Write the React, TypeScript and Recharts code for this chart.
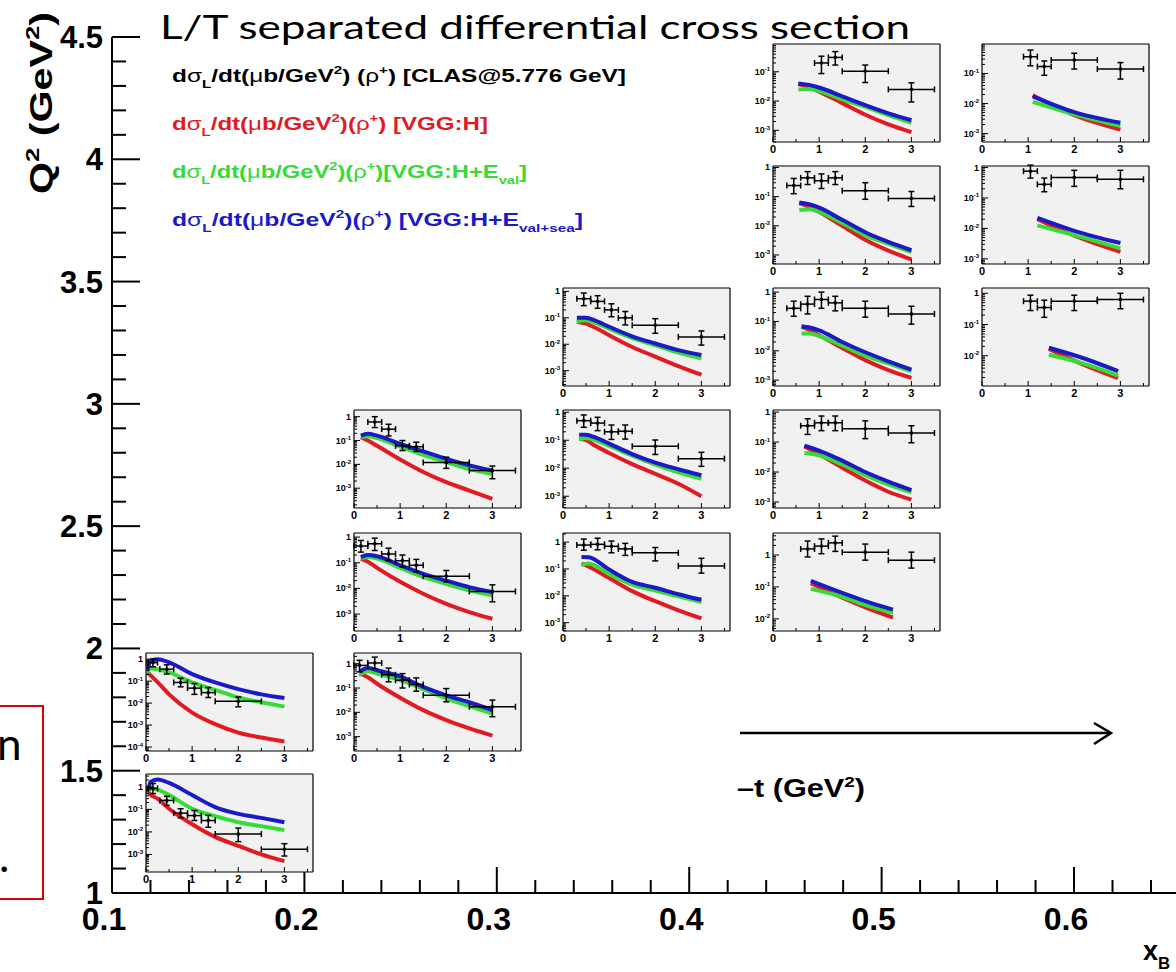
import React from 'react';
import { ComposedChart, Line, Scatter, ErrorBar, XAxis, YAxis, CartesianGrid } from 'recharts';

const RED = '#e21b22';
const GREEN = '#35dc35';
const BLUE = '#1a1ac8';
const PAD_BG = '#f1f1f1';
const HELV = '"Liberation Sans", Arial, Helvetica, sans-serif';

// outer frame ticks (x_B every 0.02, Q^2 every 0.1)
const XB_TICKS = Array.from({ length: 28 }, (_, i) => (10 + 2 * i) / 100);
const Q2_TICKS = Array.from({ length: 36 }, (_, i) => (10 + i) / 10);
const PANEL_ANCHORS = [
  { xb: 0.12, q2: 1.25 }, { xb: 0.23, q2: 2.25 }, { xb: 0.34, q2: 3.25 }, { xb: 0.45, q2: 4.25 }, { xb: 0.56, q2: 3.75 },
];

// CLAS points: [-t, value, low, high, -t low, -t high]
// VGG curves: [-t, H, H+Eval, H+Eval+sea]
const clasC1R0 = [
  [0.15, 0.85, 0.5, 1.4, 0.05, 0.25],
  [0.45, 0.25, 0.15, 0.38, 0.3, 0.6],
  [0.75, 0.068, 0.042, 0.107, 0.6, 0.9],
  [1.05, 0.053, 0.032, 0.089, 0.9, 1.2],
  [1.35, 0.032, 0.016, 0.054, 1.2, 1.5],
  [2.0, 0.008, 0.0037, 0.0148, 1.5, 2.5],
  [3.0, 0.0017, 0.00085, 0.003, 2.5, 3.5],
];
const vggC1R0 = [
  [0.05, 0.6, 0.6, 0.7],
  [0.1, 0.45, 0.85, 1.66],
  [0.25, 0.3, 0.75, 2.1],
  [0.5, 0.107, 0.43, 1.5],
  [1.0, 0.022, 0.107, 0.43],
  [1.5, 0.006, 0.05, 0.126],
  [2.0, 0.0024, 0.027, 0.063],
  [2.5, 0.001, 0.018, 0.042],
  [3.0, 0.0005, 0.012, 0.027],
];

const clasC1R1 = [
  [0.15, 0.7, 0.45, 1.0, 0.05, 0.25],
  [0.45, 0.35, 0.21, 0.55, 0.3, 0.6],
  [0.75, 0.087, 0.055, 0.135, 0.6, 0.9],
  [1.05, 0.048, 0.025, 0.078, 0.9, 1.2],
  [1.35, 0.03, 0.018, 0.051, 1.2, 1.5],
  [2.0, 0.012, 0.0068, 0.019, 1.5, 2.5],
];
const vggC1R1 = [
  [0.03, 0.25, 0.25, 0.3],
  [0.1, 0.18, 0.39, 0.83],
  [0.25, 0.09, 0.35, 1.0],
  [0.5, 0.025, 0.25, 0.71],
  [1.0, 0.0037, 0.087, 0.21],
  [1.5, 0.0011, 0.04, 0.087],
  [2.0, 0.00045, 0.018, 0.043],
  [2.5, 0.00027, 0.011, 0.025],
  [3.0, 0.00018, 0.0069, 0.017],
];

const clasC2R1 = [
  [0.12, 0.85, 0.46, 1.38, 0.0, 0.3],
  [0.45, 1.07, 0.63, 1.86, 0.3, 0.6],
  [0.75, 0.35, 0.18, 0.66, 0.6, 0.9],
  [1.05, 0.21, 0.1, 0.39, 0.9, 1.2],
  [1.35, 0.14, 0.074, 0.26, 1.2, 1.5],
  [2.0, 0.05, 0.027, 0.095, 1.5, 2.5],
  [3.0, 0.017, 0.0066, 0.032, 2.5, 3.5],
];
const vggC2R1 = [
  [0.12, 0.39, 0.35, 0.46],
  [0.3, 0.28, 0.49, 0.66],
  [0.5, 0.15, 0.39, 0.54],
  [1.0, 0.04, 0.21, 0.3],
  [1.5, 0.0123, 0.09, 0.112],
  [2.0, 0.0048, 0.037, 0.05],
  [2.5, 0.0022, 0.018, 0.026],
  [3.0, 0.0011, 0.0089, 0.0123],
];

const clasC2R2 = [
  [0.15, 0.45, 0.26, 0.74, 0.0, 0.3],
  [0.45, 0.55, 0.3, 0.91, 0.3, 0.6],
  [0.75, 0.22, 0.123, 0.37, 0.6, 0.9],
  [1.05, 0.12, 0.068, 0.2, 0.9, 1.2],
  [1.35, 0.08, 0.044, 0.135, 1.2, 1.5],
  [2.0, 0.03, 0.018, 0.05, 1.5, 2.5],
  [3.0, 0.0076, 0.003, 0.0138, 2.5, 3.5],
];
const vggC2R2 = [
  [0.15, 0.145, 0.145, 0.166],
  [0.3, 0.11, 0.166, 0.2],
  [0.5, 0.063, 0.145, 0.18],
  [1.0, 0.018, 0.063, 0.08],
  [1.5, 0.0062, 0.028, 0.037],
  [2.0, 0.0025, 0.015, 0.02],
  [2.5, 0.0012, 0.0085, 0.0112],
  [3.0, 0.00066, 0.0054, 0.0072],
];

const clasC2R3 = [
  [0.45, 0.6, 0.35, 1.0, 0.3, 0.6],
  [0.75, 0.3, 0.155, 0.48, 0.6, 0.9],
  [1.05, 0.06, 0.038, 0.1, 0.9, 1.2],
  [1.35, 0.055, 0.035, 0.085, 1.2, 1.5],
  [2.0, 0.012, 0.0068, 0.02, 1.5, 2.5],
  [3.0, 0.0055, 0.0025, 0.0085, 2.5, 3.5],
];
const vggC2R3 = [
  [0.15, 0.138, 0.138, 0.16],
  [0.3, 0.1, 0.15, 0.19],
  [0.5, 0.06, 0.126, 0.16],
  [1.0, 0.016, 0.055, 0.072],
  [1.5, 0.0048, 0.025, 0.035],
  [2.0, 0.0018, 0.0126, 0.017],
  [2.5, 0.0008, 0.0063, 0.0091],
  [3.0, 0.00036, 0.004, 0.0055],
];

const clasC3R2 = [
  [0.45, 0.78, 0.5, 1.3, 0.3, 0.6],
  [0.75, 0.83, 0.52, 1.4, 0.6, 0.9],
  [1.05, 0.7, 0.4, 1.1, 0.9, 1.2],
  [1.35, 0.56, 0.32, 0.9, 1.2, 1.5],
  [2.0, 0.4, 0.2, 0.63, 1.5, 2.5],
  [3.0, 0.13, 0.07, 0.25, 2.5, 3.5],
];
const vggC3R2 = [
  [0.4, 0.16, 0.14, 0.28],
  [0.55, 0.123, 0.16, 0.275],
  [1.0, 0.046, 0.065, 0.095],
  [1.5, 0.015, 0.026, 0.033],
  [2.0, 0.0063, 0.0158, 0.02],
  [2.5, 0.0029, 0.0095, 0.0115],
  [3.0, 0.00145, 0.0058, 0.0071],
];

const clasC3R3 = [
  [0.45, 0.5, 0.29, 0.8, 0.3, 0.6],
  [0.75, 0.41, 0.22, 0.66, 0.6, 0.9],
  [1.05, 0.2, 0.107, 0.35, 0.9, 1.2],
  [1.35, 0.21, 0.11, 0.35, 1.2, 1.5],
  [2.0, 0.061, 0.031, 0.102, 1.5, 2.5],
  [3.0, 0.022, 0.0117, 0.037, 2.5, 3.5],
];
const vggC3R3 = [
  [0.35, 0.112, 0.107, 0.158],
  [0.5, 0.1, 0.12, 0.158],
  [0.7, 0.063, 0.1, 0.126],
  [1.0, 0.035, 0.063, 0.076],
  [1.5, 0.014, 0.028, 0.032],
  [2.0, 0.0063, 0.0135, 0.0158],
  [2.5, 0.0028, 0.0072, 0.0092],
  [3.0, 0.001, 0.0042, 0.0056],
];

const clasC3R4 = [
  [0.45, 0.53, 0.29, 0.87, 0.3, 0.6],
  [0.75, 0.42, 0.23, 0.69, 0.6, 0.9],
  [1.05, 0.2, 0.11, 0.34, 0.9, 1.2],
  [1.35, 0.1, 0.054, 0.174, 1.2, 1.5],
  [2.0, 0.053, 0.026, 0.093, 1.5, 2.5],
  [3.0, 0.019, 0.0093, 0.032, 2.5, 3.5],
];
const vggC3R4 = [
  [0.3, 0.071, 0.071, 0.1],
  [0.5, 0.06, 0.081, 0.1],
  [0.7, 0.042, 0.065, 0.078],
  [1.0, 0.022, 0.039, 0.046],
  [1.5, 0.0079, 0.017, 0.02],
  [2.0, 0.0034, 0.0091, 0.0107],
  [2.5, 0.0015, 0.0048, 0.006],
  [3.0, 0.0007, 0.0029, 0.0039],
];

const clasC4R2 = [
  [0.75, 1.55, 0.87, 2.75, 0.6, 0.9],
  [1.05, 1.9, 1.1, 3.2, 0.9, 1.2],
  [1.35, 2.4, 1.3, 3.9, 1.2, 1.5],
  [2.0, 1.23, 0.69, 2.2, 1.5, 2.5],
  [3.0, 0.69, 0.39, 1.23, 2.5, 3.5],
];
const vggC4R2 = [
  [0.82, 0.13, 0.087, 0.155],
  [1.5, 0.046, 0.049, 0.065],
  [2.0, 0.023, 0.027, 0.036],
  [2.6, 0.011, 0.0155, 0.0195],
];

const clasC4R3 = [
  [0.75, 0.35, 0.18, 0.6, 0.6, 0.9],
  [1.05, 0.44, 0.24, 0.74, 0.9, 1.2],
  [1.35, 0.44, 0.24, 0.74, 1.2, 1.5],
  [2.0, 0.28, 0.13, 0.51, 1.5, 2.5],
  [3.0, 0.2, 0.095, 0.35, 2.5, 3.5],
];
const vggC4R3 = [
  [0.68, 0.071, 0.043, 0.076],
  [1.0, 0.039, 0.036, 0.052],
  [1.5, 0.014, 0.018, 0.024],
  [2.0, 0.0052, 0.0078, 0.01],
  [2.5, 0.0022, 0.0038, 0.0048],
  [3.0, 0.0012, 0.0021, 0.0025],
];

const clasC4R4 = [
  [0.45, 0.28, 0.15, 0.49, 0.3, 0.6],
  [0.75, 0.39, 0.18, 0.72, 0.6, 0.9],
  [1.05, 0.56, 0.28, 1.0, 0.9, 1.2],
  [1.35, 0.43, 0.23, 0.72, 1.2, 1.5],
  [2.0, 0.28, 0.14, 0.49, 1.5, 2.5],
  [3.0, 0.18, 0.081, 0.33, 2.5, 3.5],
];
const vggC4R4 = [
  [0.62, 0.065, 0.039, 0.069],
  [0.8, 0.05, 0.039, 0.062],
  [1.0, 0.034, 0.032, 0.05],
  [1.5, 0.0125, 0.015, 0.02],
  [2.0, 0.0048, 0.0068, 0.0089],
  [2.5, 0.0022, 0.0037, 0.0044],
  [3.0, 0.0012, 0.002, 0.0023],
];

const clasC4R5 = [
  [0.45, 0.24, 0.126, 0.42, 0.3, 0.6],
  [0.75, 0.44, 0.26, 0.72, 0.6, 0.9],
  [1.05, 0.35, 0.19, 0.6, 0.9, 1.2],
  [1.35, 0.44, 0.26, 0.72, 1.2, 1.5],
  [2.0, 0.16, 0.081, 0.3, 1.5, 2.5],
  [3.0, 0.087, 0.046, 0.15, 2.5, 3.5],
];
const vggC4R5 = [
  [0.57, 0.06, 0.035, 0.063],
  [0.8, 0.043, 0.037, 0.054],
  [1.0, 0.03, 0.03, 0.042],
  [1.5, 0.01, 0.0125, 0.016],
  [2.0, 0.0033, 0.0048, 0.006],
  [2.5, 0.0014, 0.0024, 0.0028],
  [3.0, 0.0007, 0.00126, 0.00145],
];

const clasC4R6 = [
  [1.05, 0.2, 0.087, 0.34, 0.9, 1.2],
  [1.35, 0.31, 0.17, 0.49, 1.2, 1.5],
  [2.0, 0.105, 0.043, 0.17, 1.5, 2.5],
  [3.0, 0.025, 0.0093, 0.042, 2.5, 3.5],
];
const vggC4R6 = [
  [0.55, 0.038, 0.025, 0.04],
  [0.8, 0.029, 0.026, 0.035],
  [1.0, 0.021, 0.022, 0.029],
  [1.5, 0.0085, 0.0115, 0.0145],
  [2.0, 0.0034, 0.0063, 0.0072],
  [2.5, 0.0016, 0.0033, 0.0038],
  [3.0, 0.00087, 0.0018, 0.0022],
];

const clasC5R4 = [
  [1.05, 0.56, 0.28, 0.87, 0.9, 1.2],
  [1.35, 0.35, 0.17, 0.6, 1.2, 1.5],
  [2.0, 0.56, 0.28, 0.87, 1.5, 2.5],
  [3.0, 0.63, 0.32, 1.0, 2.5, 3.5],
];
const vggC5R4 = [
  [1.45, 0.0166, 0.0107, 0.018],
  [2.2, 0.0052, 0.0056, 0.0083],
  [2.95, 0.0019, 0.0023, 0.0032],
];

const clasC5R5 = [
  [1.05, 0.76, 0.45, 1.2, 0.9, 1.2],
  [1.35, 0.28, 0.16, 0.45, 1.2, 1.5],
  [2.0, 0.47, 0.24, 0.81, 1.5, 2.5],
  [3.0, 0.41, 0.2, 0.81, 2.5, 3.5],
];
const vggC5R5 = [
  [1.2, 0.02, 0.0126, 0.022],
  [2.0, 0.0058, 0.006, 0.0083],
  [3.0, 0.0017, 0.0022, 0.0033],
];

const clasC5R6 = [
  [1.05, 0.36, 0.18, 0.6, 0.9, 1.2],
  [1.35, 0.17, 0.087, 0.26, 1.2, 1.5],
  [2.0, 0.28, 0.14, 0.47, 1.5, 2.5],
  [3.0, 0.14, 0.065, 0.23, 2.5, 3.5],
];
const vggC5R6 = [
  [1.1, 0.019, 0.0114, 0.0174],
  [2.0, 0.0041, 0.0044, 0.0052],
  [3.0, 0.00135, 0.0018, 0.0023],
];

// pad layout (pixels) and log10 range of each pad's y axis
const COL_LEFT = [146, 354, 563, 773, 982];
const ROW_TOP = [774, 653, 533, 410, 288, 166, 44];
const PAD_W = 167;
const PAD_H = 98;
const AX_W = 34;
const AX_H = 16;
const PAD_TOP = 8;

const PANELS = [
  { col: 0, row: 0, logY: [-3.78, 0.57], clas: clasC1R0, vgg: vggC1R0 },
  { col: 0, row: 1, logY: [-4.18, 0.28], clas: clasC1R1, vgg: vggC1R1 },
  { col: 1, row: 1, logY: [-3.59, 0.44], clas: clasC2R1, vgg: vggC2R1 },
  { col: 1, row: 2, logY: [-3.66, 0.16], clas: clasC2R2, vgg: vggC2R2 },
  { col: 1, row: 3, logY: [-3.83, 0.28], clas: clasC2R3, vgg: vggC2R3 },
  { col: 2, row: 2, logY: [-3.31, 0.34], clas: clasC3R2, vgg: vggC3R2 },
  { col: 2, row: 3, logY: [-3.42, 0.08], clas: clasC3R3, vgg: vggC3R3 },
  { col: 2, row: 4, logY: [-3.58, 0.13], clas: clasC3R4, vgg: vggC3R4 },
  { col: 3, row: 2, logY: [-2.38, 0.69], clas: clasC4R2, vgg: vggC4R2 },
  { col: 3, row: 3, logY: [-3.2, 0.07], clas: clasC4R3, vgg: vggC4R3 },
  { col: 3, row: 4, logY: [-3.2, 0.14], clas: clasC4R4, vgg: vggC4R4 },
  { col: 3, row: 5, logY: [-3.31, 0.05], clas: clasC4R5, vgg: vggC4R5 },
  { col: 3, row: 6, logY: [-3.4, -0.05], clas: clasC4R6, vgg: vggC4R6 },
  { col: 4, row: 4, logY: [-2.97, 0.17], clas: clasC5R4, vgg: vggC5R4 },
  { col: 4, row: 5, logY: [-3.17, 0.05], clas: clasC5R5, vgg: vggC5R5 },
  { col: 4, row: 6, logY: [-3.28, -0.02], clas: clasC5R6, vgg: vggC5R6 },
];

const toPoints = (rows: number[][]) =>
  rows.map(([t, v, lo, hi, tl, th]) => ({ t, v, ey: [v - lo, hi - v], ex: [t - tl, th - t] }));
const toCurves = (rows: number[][]) => rows.map(([t, h, hv, hs]) => ({ t, h, hv, hs }));

const PAD_X_TICKS = [0, 0.5, 1, 1.5, 2, 2.5, 3, 3.5];

function logTicks(lo: number, hi: number) {
  const out: number[] = [];
  for (let n = Math.floor(lo); n <= Math.ceil(hi); n++) {
    for (let m = 1; m <= 9; m++) {
      const v = m * Math.pow(10, n);
      const e = Math.log10(v);
      if (e >= lo - 1e-9 && e <= hi + 1e-9) out.push(v);
    }
  }
  return out;
}

const PadYTick = (props: any) => {
  const { x, y, payload } = props;
  const e = Math.log10(payload.value);
  const n = Math.round(e);
  const major = Math.abs(e - n) < 1e-6;
  return (
    <g>
      <line x1={x} x2={x + (major ? 6 : 3)} y1={y} y2={y} stroke="#000" strokeWidth={1} />
      {major && (
        <text x={x - 3} y={y + 3} textAnchor="end" fontFamily={HELV} fontWeight="bold" fontSize={9} fill="#000">
          {n === 0 ? '1' : <>10<tspan dy={-3.5} fontSize={6}>{`-${-n}`}</tspan></>}
        </text>
      )}
    </g>
  );
};

const PadXTick = (props: any) => {
  const { x, y, payload } = props;
  const major = Number.isInteger(payload.value);
  return (
    <g>
      <line x1={x} x2={x} y1={y} y2={y - (major ? 5 : 3)} stroke="#000" strokeWidth={1} />
      {major && (
        <text x={x} y={y + 11} textAnchor="middle" fontFamily={HELV} fontWeight="bold" fontSize={11} fill="#000">
          {payload.value}
        </text>
      )}
    </g>
  );
};

const dataDot = (p: any) => <rect x={p.cx - 1.5} y={p.cy - 1.5} width={3} height={3} fill="#000" />;

function Pad({ col, row, logY, clas, vgg }: any) {
  const points = toPoints(clas);
  const curves = toCurves(vgg);
  const width = AX_W + PAD_W + 1;
  const height = PAD_TOP + PAD_H + AX_H;
  return (
    <div style={{ position: 'absolute', left: COL_LEFT[col] - AX_W, top: ROW_TOP[row] - PAD_TOP }}>
      <ComposedChart width={width} height={height} margin={{ top: PAD_TOP, right: 1, left: 0, bottom: 0 }}>
        <CartesianGrid
          fill={PAD_BG}
          fillOpacity={1}
          stroke="#000"
          strokeWidth={1.2}
          horizontalPoints={[PAD_TOP, PAD_TOP + PAD_H]}
          verticalPoints={[AX_W, AX_W + PAD_W]}
        />
        <XAxis
          type="number"
          dataKey="t"
          domain={[0, 3.62]}
          ticks={PAD_X_TICKS}
          interval={0}
          height={AX_H}
          tickSize={0}
          tickMargin={0}
          axisLine={false}
          tickLine={false}
          tick={(p: any) => <PadXTick {...p} />}
          allowDataOverflow
        />
        <YAxis
          type="number"
          scale="log"
          domain={[Math.pow(10, logY[0]), Math.pow(10, logY[1])]}
          ticks={logTicks(logY[0], logY[1])}
          interval={0}
          width={AX_W}
          tickSize={0}
          tickMargin={0}
          axisLine={false}
          tickLine={false}
          tick={(p: any) => <PadYTick {...p} />}
          allowDataOverflow
        />
        <Line data={curves} dataKey="h" type="monotone" stroke={RED} strokeWidth={4} dot={false} isAnimationActive={false} />
        <Line data={curves} dataKey="hv" type="monotone" stroke={GREEN} strokeWidth={4} dot={false} isAnimationActive={false} />
        <Line data={curves} dataKey="hs" type="monotone" stroke={BLUE} strokeWidth={4} dot={false} isAnimationActive={false} />
        <Scatter data={points} dataKey="v" shape={dataDot} isAnimationActive={false}>
          <ErrorBar dataKey="ey" direction="y" width={3} stroke="#000" strokeWidth={1.5} isAnimationActive={false} />
          <ErrorBar dataKey="ex" direction="x" width={3} stroke="#000" strokeWidth={1.5} isAnimationActive={false} />
        </Scatter>
      </ComposedChart>
    </div>
  );
}

const XbTick = (props: any) => {
  const { x, y, payload } = props;
  const v = payload.value;
  const major = Math.abs(v * 10 - Math.round(v * 10)) < 1e-6;
  return (
    <g>
      <line x1={x} x2={x} y1={y} y2={y - (major ? 26 : 13)} stroke="#000" strokeWidth={2} />
      {major && (
        <text x={x - 8} y={y + 37} textAnchor="middle" fontFamily={HELV} fontWeight="bold" fontSize={32} fill="#000">
          {v.toFixed(1)}
        </text>
      )}
    </g>
  );
};

const Q2Tick = (props: any) => {
  const { x, y, payload } = props;
  const v = payload.value;
  const major = Math.abs(v * 2 - Math.round(v * 2)) < 1e-6;
  return (
    <g>
      <line x1={x} x2={x + (major ? 28 : 14)} y1={y} y2={y} stroke="#000" strokeWidth={2} />
      {major && (
        <text x={x - 9} y={y + 11} textAnchor="end" fontFamily={HELV} fontWeight="bold" fontSize={31} fill="#000">
          {String(v)}
        </text>
      )}
    </g>
  );
};

function Rich({ x, y, size, fill = '#000', parts, len, anchor, transform }: any) {
  let cur = 0;
  return (
    <text
      x={x}
      y={y}
      fill={fill}
      fontSize={size}
      fontFamily={HELV}
      fontWeight="bold"
      textLength={len}
      lengthAdjust={len ? 'spacingAndGlyphs' : undefined}
      textAnchor={anchor}
      transform={transform}
    >
      {parts.map(([k, s]: string[], i: number) => {
        const target = k === 'sub' ? size * 0.32 : k === 'sup' ? -size * 0.42 : 0;
        const dy = target - cur;
        cur = target;
        const small = k === 'sub' || k === 'sup';
        return (
          <tspan key={i} dy={dy} fontSize={small ? size * 0.62 : size} fontWeight={k === 'g' ? 'normal' : 'bold'}>
            {s}
          </tspan>
        );
      })}
    </text>
  );
}

const lhs = (gap: string) => [
  ['n', 'd'], ['g', 'σ'], ['sub', 'L'], ['n', '/dt('], ['g', 'μ'], ['n', 'b/GeV'], ['sup', '2'],
  ['n', ')' + gap + '('], ['g', 'ρ'], ['sup', '+'], ['n', ')'],
];

function Overlay() {
  return (
    <svg width={1176} height={972} style={{ position: 'absolute', left: 0, top: 0, pointerEvents: 'none' }}>
      <text x={160} y={39} fontFamily="Lato, 'Open Sans', sans-serif" fontSize={32} fill="#000" textLength={750} lengthAdjust="spacingAndGlyphs">
        L/T separated differential cross section
      </text>
      <Rich x={172} y={82} size={19} len={454} parts={[...lhs(' '), ['n', ' [CLAS@5.776 GeV]']]} />
      <Rich x={172} y={130} size={19} len={316} fill={RED} parts={[...lhs(''), ['n', ' [VGG:H]']]} />
      <Rich x={172} y={178} size={19} len={355} fill={GREEN} parts={[...lhs(''), ['n', '[VGG:H+E'], ['sub', 'val'], ['n', ']']]} />
      <Rich x={172} y={226} size={19} len={411} fill={BLUE} parts={[...lhs(''), ['n', ' [VGG:H+E'], ['sub', 'val+sea'], ['n', ']']]} />
      <Rich x={52} y={103} size={31} anchor="middle" transform="rotate(-90 52 103)" len={182}
        parts={[['n', 'Q'], ['sup', '2'], ['n', ' (GeV'], ['sup', '2'], ['n', ')']]} />
      <Rich x={1143} y={960} size={27} parts={[['n', 'x'], ['sub', 'B']]} />
      <line x1={740} y1={733} x2={1110} y2={733} stroke="#000" strokeWidth={2.5} />
      <polyline points="1094,723 1111,733 1094,744" fill="none" stroke="#000" strokeWidth={2.5} />
      <Rich x={737} y={797} size={25} len={128} parts={[['n', '–t (GeV'], ['sup', '2'], ['n', ')']]} />
      <rect x={-2} y={706} width={45} height={193} fill="none" stroke="#e00000" strokeWidth={2} />
      <text x={-3} y={760} fontFamily="Lato, sans-serif" fontSize={44} fill="#000">n</text>
      <text x={-1} y={872} fontFamily="Lato, sans-serif" fontSize={44} fill="#000">.</text>
    </svg>
  );
}

export default function App() {
  return (
    <div style={{ position: 'absolute', left: 0, top: 0, width: 1176, height: 972, background: '#fff', overflow: 'hidden' }}>
      <ComposedChart width={1176} height={972} margin={{ top: 37, right: 0, left: 0, bottom: 0 }}>
        <XAxis
          type="number"
          dataKey="xb"
          domain={[0.1, 0.653]}
          ticks={XB_TICKS}
          interval={0}
          height={79}
          tickSize={0}
          tickMargin={0}
          tickLine={false}
          axisLine={{ stroke: '#000', strokeWidth: 2 }}
          tick={(p: any) => <XbTick {...p} />}
          allowDataOverflow
        />
        <YAxis
          type="number"
          dataKey="q2"
          domain={[1, 4.5]}
          ticks={Q2_TICKS}
          interval={0}
          width={112}
          tickSize={0}
          tickMargin={0}
          tickLine={false}
          axisLine={{ stroke: '#000', strokeWidth: 2 }}
          tick={(p: any) => <Q2Tick {...p} />}
          allowDataOverflow
        />
        <Scatter data={PANEL_ANCHORS} dataKey="q2" shape={() => <g />} isAnimationActive={false} />
      </ComposedChart>
      {PANELS.map((p, i) => (
        <Pad key={i} {...p} />
      ))}
      <Overlay />
    </div>
  );
}
